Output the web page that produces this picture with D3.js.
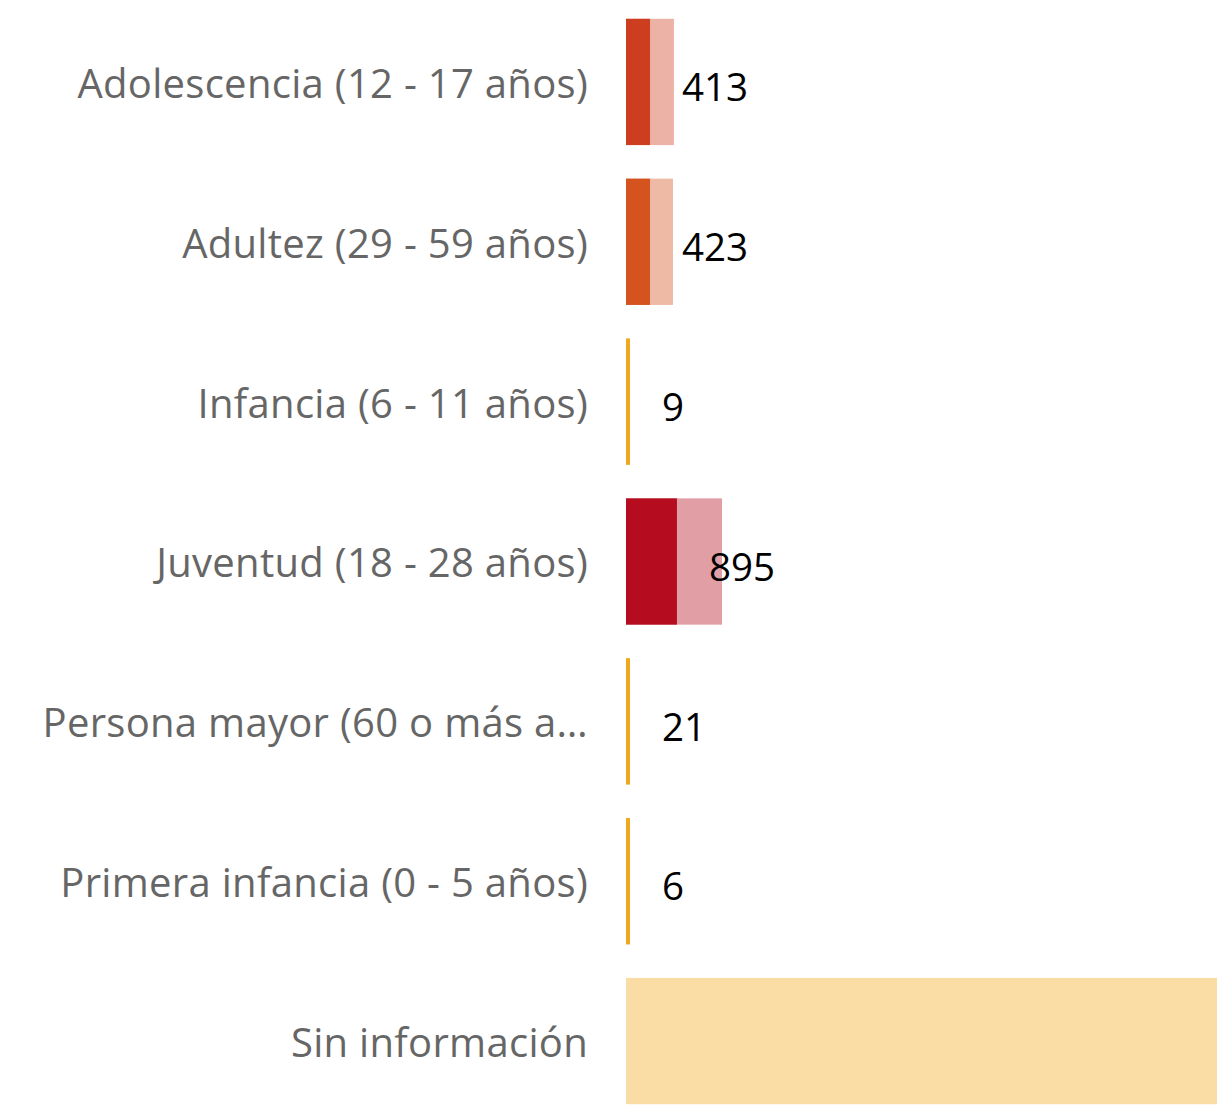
<!DOCTYPE html>
<html>
<head>
<meta charset="utf-8">
<script src="https://cdn.jsdelivr.net/npm/d3@7"></script>
<style>
  body { margin: 0; background: #fff; }
  .cat { font-family: "Open Sans", sans-serif; font-size: 40px; letter-spacing: 0.3px; fill: #666; }
  .val { font-family: "Open Sans", sans-serif; font-size: 38.5px; fill: #000; }
</style>
</head>
<body>
<div class="chart"></div>
<script>
var categories = [
    "Adolescencia (12 - 17 años)",
    "Adultez (29 - 59 años)",
    "Infancia (6 - 11 años)",
    "Juventud (18 - 28 años)",
    "Persona mayor (60 o más a…",
    "Primera infancia (0 - 5 años)",
    "Sin información"
]
// dark (highlighted) part and full bar
var highlighted = [224, 224, 9, 475, 21, 6, 0]
var totals = [447, 438, 9, 895, 21, 6, 6900]
var labels = ["413", "423", "9", "895", "21", "6", null]
var colors = ["#CC3E1F", "#D5531F", "#F2A81D", "#B50D1F", "#F2A81D", "#F2A81D", "#F2A81D"]

var W = 1217, H = 1109
var x0 = 626

var rows = categories.map((c, i) => ({
    cat: c, hi: highlighted[i], total: totals[i], label: labels[i], color: colors[i]
}))

var x = d3.scaleLinear().domain([0, 895]).range([x0, x0 + 96])
var y = d3.scaleBand().domain(categories).range([2, 1121]).paddingInner(0.21).paddingOuter(0.105)

var svg = d3.select('.chart')
    .append('svg')
    .attr('width', W)
    .attr('height', H)

function barW(v) {
    return v > 0 ? Math.max(4, x(v) - x0) : 0
}

var g = svg.selectAll('g.row')
    .data(rows)
    .enter()
    .append('g')
    .attr('class', 'row')
    .attr('transform', d => 'translate(0, ' + y(d.cat) + ')')

// light part = total, dark part = highlighted
g.append('rect')
    .attr('x', x0)
    .attr('width', d => barW(d.total))
    .attr('height', y.bandwidth())
    .attr('fill', d => d.color)
    .attr('fill-opacity', 0.4)

g.append('rect')
    .attr('x', x0)
    .attr('width', d => barW(d.hi))
    .attr('height', y.bandwidth())
    .attr('fill', d => d.color)

g.append('text')
    .attr('class', 'cat')
    .attr('x', 588)
    .attr('y', y.bandwidth() / 2)
    .attr('dy', '0.4em')
    .attr('text-anchor', 'end')
    .text(d => d.cat)

g.filter(d => d.label)
    .append('text')
    .attr('class', 'val')
    .attr('x', d => x0 + barW(d.hi) + 32)
    .attr('y', y.bandwidth() / 2)
    .attr('dy', '0.5em')
    .text(d => d.label)
</script>
</body>
</html>
